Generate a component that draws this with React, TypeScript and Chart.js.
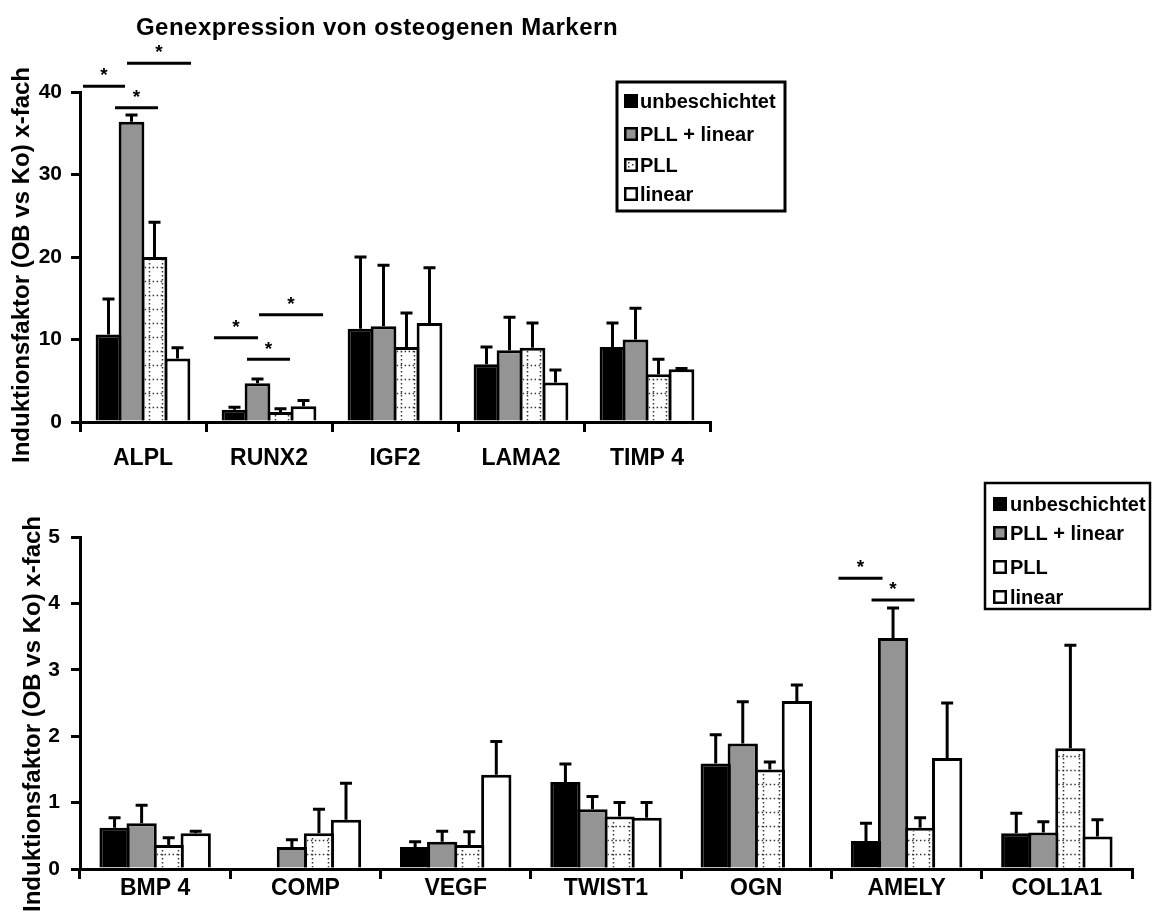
import React, { useEffect, useRef } from "react";
import { Chart, registerables } from "chart.js";
Chart.register(...registerables);

const FONT = '"Liberation Sans", Arial, Helvetica, sans-serif';

// ---------- data ----------
const seriesNames = ["unbeschichtet", "PLL + linear", "PLL", "linear"];
const seriesColors = ["#000000", "#949494", "#ffffff", "#ffffff"];

const chartTitle = "Genexpression von osteogenen Markern";
const yAxisTitle = "Induktionsfaktor (OB vs Ko) x-fach";

const topCategories = ["ALPL", "RUNX2", "IGF2", "LAMA2", "TIMP 4"];
const topUnbeschichtet = [10.6, 1.5, 11.3, 7.0, 9.1];
const topPllLinear = [36.4, 4.7, 11.6, 8.7, 10.0];
const topPll = [20.0, 1.2, 9.1, 9.0, 5.8];
const topLinear = [7.7, 1.9, 12.0, 4.8, 6.4];
const topUnbeschichtetErr = [4.3, 0.3, 8.7, 2.1, 2.9];
const topPllLinearErr = [0.8, 0.5, 7.4, 4.0, 3.8];
const topPllErr = [4.2, 0.4, 4.1, 3.0, 1.8];
const topLinearErr = [1.3, 0.7, 6.7, 1.5, 0.1];
const topTicks = [0, 10, 20, 30, 40];

const bottomCategories = ["BMP 4", "COMP", "VEGF", "TWIST1", "OGN", "AMELY", "COL1A1"];
const bottomUnbeschichtet = [0.62, null, 0.33, 1.31, 1.59, 0.42, 0.54];
const bottomPllLinear = [0.69, 0.33, 0.41, 0.9, 1.89, 3.48, 0.55];
const bottomPll = [0.36, 0.54, 0.36, 0.79, 1.5, 0.62, 1.82];
const bottomLinear = [0.54, 0.74, 1.42, 0.77, 2.53, 1.67, 0.49];
const bottomUnbeschichtetErr = [0.15, null, 0.08, 0.27, 0.43, 0.27, 0.3];
const bottomPllLinearErr = [0.27, 0.11, 0.16, 0.19, 0.63, 0.45, 0.16];
const bottomPllErr = [0.11, 0.36, 0.2, 0.21, 0.11, 0.15, 1.55];
const bottomLinearErr = [0.03, 0.55, 0.5, 0.23, 0.24, 0.83, 0.25];
const bottomTicks = [0, 1, 2, 3, 4, 5];

// significance brackets: category index, start / end (offset from category centre in category widths), height (data units)
const topSigCategory = [0, 0, 0, 1, 1, 1];
const topSigFrom = [-0.476, -0.127, -0.222, -0.437, -0.079, -0.175];
const topSigTo = [-0.143, 0.381, 0.119, -0.087, 0.429, 0.167];
const topSigLevel = [40.7, 43.5, 38.1, 10.2, 13.0, 7.6];
const bottomSigCategory = [5, 5];
const bottomSigFrom = [-0.453, -0.233];
const bottomSigTo = [-0.16, 0.053];
const bottomSigLevel = [4.38, 4.05];

type Spec = {
  height: number;
  top: number;
  categories: string[];
  values: (number | null)[][];
  errors: (number | null)[][];
  ticks: number[];
  sigCat: number[];
  sigFrom: number[];
  sigTo: number[];
  sigLevel: number[];
  pad: { top: number; right: number };
  xHeight: number;
  xPadding: number;
  yPadding: number;
  catPct: number;
  title: boolean;
  yTitlePos: { x: number; y: number };
  legend: { x0: number; y0: number; x1: number; y1: number; rows: number[]; sx: number; ss: number; tx: number; border: number; patterned: boolean };
};

function drawPllPattern(ctx: CanvasRenderingContext2D, left: number, top: number, right: number, bottom: number, w: number, x0: number) {
  ctx.save();
  ctx.beginPath();
  ctx.rect(left, top, right - left, bottom - top);
  ctx.clip();
  ctx.strokeStyle = "#333";
  ctx.lineWidth = 1.5;
  ctx.setLineDash([1.5, 2.5]);
  ctx.beginPath();
  [0.27, 0.8].forEach((f) => {
    const px = Math.round(x0 + w * f) + 0.5;
    ctx.moveTo(px, bottom);
    ctx.lineTo(px, top);
  });
  for (let yy = bottom - 14; yy > top; yy -= 14) {
    const py = Math.round(yy) + 0.5;
    ctx.moveTo(left, py);
    ctx.lineTo(right, py);
  }
  ctx.stroke();
  ctx.restore();
}

function makeChart(canvas: HTMLCanvasElement, spec: Spec) {
  const overlay = {
    id: "overlay",
    afterDatasetsDraw(chart: any) {
      const ctx: CanvasRenderingContext2D = chart.ctx;
      const xs = chart.scales.x;
      const ys = chart.scales.y;
      ctx.save();
      // PLL pattern
      const m2 = chart.getDatasetMeta(2);
      m2.data.forEach((el: any, i: number) => {
        if (spec.values[2][i] == null) return;
        const p = el.getProps(["x", "y", "base", "width"], true);
        const l = p.x - p.width / 2;
        drawPllPattern(ctx, l + 3, p.y + 3, l + p.width - 3, p.base, p.width, l);
      });
      // error bars
      ctx.strokeStyle = "#000";
      ctx.lineWidth = 3;
      ctx.setLineDash([]);
      spec.values.forEach((vals, di) => {
        const m = chart.getDatasetMeta(di);
        vals.forEach((v, i) => {
          const e = spec.errors[di][i];
          if (v == null || e == null) return;
          const p = m.data[i].getProps(["x", "y"], true);
          const yt = ys.getPixelForValue(v + e);
          ctx.beginPath();
          ctx.moveTo(p.x, p.y);
          ctx.lineTo(p.x, yt);
          ctx.moveTo(p.x - 6, yt);
          ctx.lineTo(p.x + 6, yt);
          ctx.stroke();
        });
      });
      // significance brackets
      const cw = (xs.right - xs.left) / spec.categories.length;
      spec.sigCat.forEach((c, k) => {
        const cx = xs.getPixelForValue(c);
        const xa = cx + spec.sigFrom[k] * cw;
        const xb = cx + spec.sigTo[k] * cw;
        const yy = ys.getPixelForValue(spec.sigLevel[k]);
        ctx.beginPath();
        ctx.moveTo(xa, yy);
        ctx.lineTo(xb, yy);
        ctx.stroke();
        ctx.fillStyle = "#000";
        ctx.font = `bold 19px ${FONT}`;
        ctx.textAlign = "center";
        ctx.textBaseline = "middle";
        ctx.fillText("*", (xa + xb) / 2, yy - 10);
      });
      ctx.restore();
    },
    afterDraw(chart: any) {
      const ctx: CanvasRenderingContext2D = chart.ctx;
      ctx.save();
      ctx.fillStyle = "#000";
      // title
      if (spec.title) {
        ctx.font = `bold 24px ${FONT}`;
        (ctx as any).letterSpacing = "0.5px";
        ctx.textAlign = "center";
        ctx.textBaseline = "middle";
        ctx.fillText(chartTitle, 377, 28);
        (ctx as any).letterSpacing = "0px";
      }
      // y title
      ctx.save();
      ctx.translate(spec.yTitlePos.x, spec.yTitlePos.y);
      ctx.rotate(-Math.PI / 2);
      ctx.font = `bold 24px ${FONT}`;
      ctx.textAlign = "center";
      ctx.textBaseline = "middle";
      ctx.fillText(yAxisTitle, 0, 0);
      ctx.restore();
      // legend
      const L = spec.legend;
      ctx.strokeStyle = "#000";
      ctx.lineWidth = L.border;
      ctx.strokeRect(L.x0, L.y0, L.x1 - L.x0, L.y1 - L.y0);
      ctx.font = `bold 20px ${FONT}`;
      ctx.textAlign = "left";
      ctx.textBaseline = "middle";
      L.rows.forEach((ry, i) => {
        const sy = ry - L.ss / 2;
        ctx.fillStyle = seriesColors[i];
        ctx.fillRect(L.sx, sy, L.ss, L.ss);
        if (i === 2 && L.patterned) {
          ctx.fillStyle = "#333";
          ctx.fillRect(L.sx + 4, sy + 4, 1.5, 1.5);
          ctx.fillRect(L.sx + 4, sy + 8, 1.5, 1.5);
          ctx.fillRect(L.sx + 8, sy + 6, 1.5, 1.5);
        }
        ctx.strokeStyle = "#000";
        ctx.lineWidth = 2.5;
        ctx.strokeRect(L.sx + 1.25, sy + 1.25, L.ss - 2.5, L.ss - 2.5);
        ctx.fillStyle = "#000";
        ctx.fillText(seriesNames[i], L.tx, ry + 1);
      });
      ctx.restore();
    },
  };

  return new Chart(canvas, {
    type: "bar",
    data: {
      labels: spec.categories,
      datasets: spec.values.map((vals, i) => ({
        label: seriesNames[i],
        data: vals,
        backgroundColor: seriesColors[i],
        borderColor: "#000",
        borderWidth: 3,
        categoryPercentage: spec.catPct,
        barPercentage: 1.12,
      })),
    },
    options: {
      responsive: false,
      animation: false,
      events: [],
      layout: { padding: { top: spec.pad.top, right: spec.pad.right, left: 0, bottom: 0 } },
      plugins: { legend: { display: false }, tooltip: { enabled: false }, title: { display: false } },
      scales: {
        x: {
          afterFit: (s: any) => {
            s.height = spec.xHeight;
          },
          grid: { drawOnChartArea: false, drawTicks: true, tickLength: 10, color: "#000", lineWidth: 3, offset: true },
          border: { display: true, color: "#000", width: 3 },
          ticks: { color: "#000", font: { family: FONT, size: 23, weight: "bold" }, padding: spec.xPadding, maxRotation: 0, autoSkip: false },
        },
        y: {
          min: spec.ticks[0],
          max: spec.ticks[spec.ticks.length - 1],
          afterFit: (s: any) => {
            s.width = 80;
          },
          afterBuildTicks: (s: any) => {
            s.ticks = spec.ticks.map((v) => ({ value: v }));
          },
          grid: { drawOnChartArea: false, drawTicks: true, tickLength: 9, color: "#000", lineWidth: 3 },
          border: { display: true, color: "#000", width: 3 },
          ticks: { color: "#000", font: { family: FONT, size: 21, weight: "bold" }, padding: spec.yPadding },
        },
      },
    } as any,
    plugins: [overlay as any],
  });
}

const topSpec: Spec = {
  height: 475,
  top: 0,
  categories: topCategories,
  values: [topUnbeschichtet, topPllLinear, topPll, topLinear],
  errors: [topUnbeschichtetErr, topPllLinearErr, topPllErr, topLinearErr],
  ticks: topTicks,
  sigCat: topSigCategory,
  sigFrom: topSigFrom,
  sigTo: topSigTo,
  sigLevel: topSigLevel,
  pad: { top: 92, right: 442 },
  xHeight: 53,
  xPadding: 13,
  yPadding: 9,
  catPct: 0.73,
  title: true,
  yTitlePos: { x: 22, y: 265 },
  legend: { x0: 617, y0: 82, x1: 785, y1: 211, rows: [101, 134, 165, 194], sx: 624, ss: 14, tx: 640, border: 3, patterned: true },
};

const bottomSpec: Spec = {
  height: 443,
  top: 475,
  categories: bottomCategories,
  values: [bottomUnbeschichtet, bottomPllLinear, bottomPll, bottomLinear],
  errors: [bottomUnbeschichtetErr, bottomPllLinearErr, bottomPllErr, bottomLinearErr],
  ticks: bottomTicks,
  sigCat: bottomSigCategory,
  sigFrom: bottomSigFrom,
  sigTo: bottomSigTo,
  sigLevel: bottomSigLevel,
  pad: { top: 62, right: 20 },
  xHeight: 49,
  xPadding: -4,
  yPadding: 11,
  catPct: 0.72,
  title: false,
  yTitlePos: { x: 33, y: 714 - 475 },
  legend: { x0: 985, y0: 483 - 475, x1: 1150, y1: 609 - 475, rows: [504 - 475, 533 - 475, 567 - 475, 597 - 475], sx: 993, ss: 14, tx: 1010, border: 2.5, patterned: false },
};

function Panel({ spec }: { spec: Spec }) {
  const ref = useRef<HTMLCanvasElement>(null);
  useEffect(() => {
    const chart = makeChart(ref.current as HTMLCanvasElement, spec);
    return () => chart.destroy();
  }, []);
  return (
    <canvas
      ref={ref}
      width={1152}
      height={spec.height}
      style={{ position: "absolute", left: 0, top: spec.top, display: "block" }}
    />
  );
}

export default function App() {
  return (
    <div style={{ position: "absolute", left: 0, top: 0, width: 1152, height: 918, background: "#fff", overflow: "hidden" }}>
      <Panel spec={topSpec} />
      <Panel spec={bottomSpec} />
    </div>
  );
}
